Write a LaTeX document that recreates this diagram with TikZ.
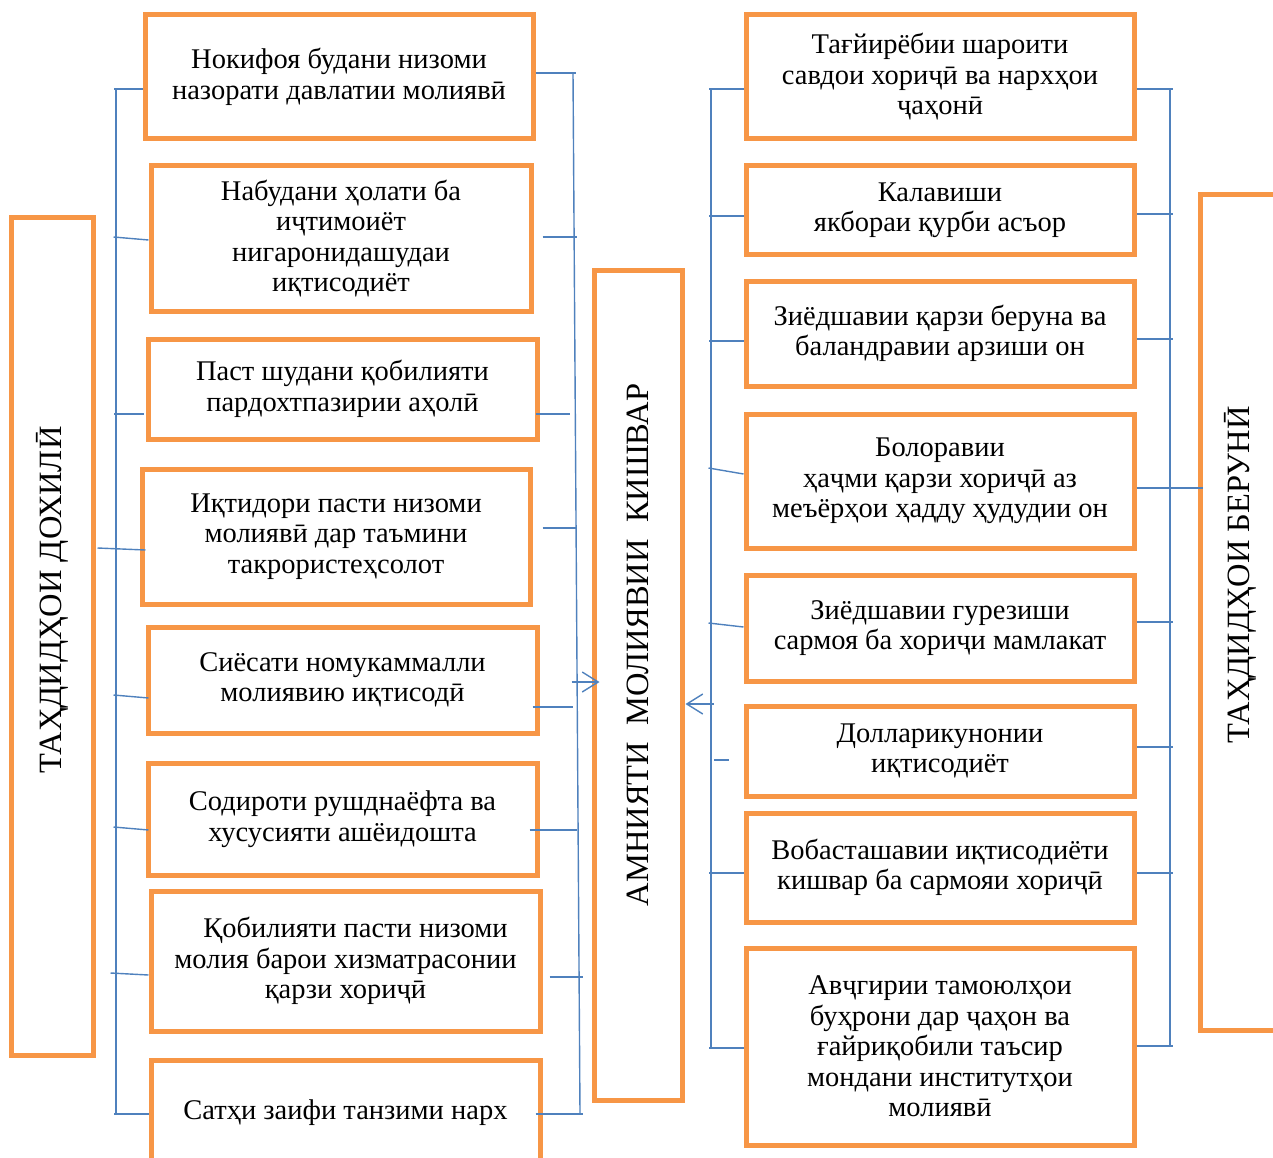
\documentclass[tikz,border=0pt]{standalone}
\usepackage{fontspec}
\setmainfont{Liberation Serif}
\usepackage{xcolor}
\usepackage{tikz}
\usetikzlibrary{arrows.meta}
\definecolor{boxorange}{HTML}{F79646}
\definecolor{linkblue}{HTML}{4F81BD}

\begin{document}
\begin{tikzpicture}[x=1pt,y=-1pt,
  box/.style={draw=boxorange,line width=5pt,align=center,inner sep=0pt,font=\fontsize{28.5}{30.5}\selectfont},
  lbl/.style={rotate=90,font=\fontsize{32.5}{34}\selectfont},
  link/.style={draw=linkblue,line width=1.4pt},
  flow/.style={link,-{Straight Barb[length=16pt,width=20pt]}}]
\useasboundingbox (0,0) rectangle (1273,1158);
\clip (0,0) rectangle (1273,1158);

% big boxes
\node[box,minimum width=82pt,minimum height=837pt](inner)at(52,636.5){};
\node[lbl](innerlbl)at(52,600){ТАҲДИДҲОИ ДОХИЛӢ};
\node[box,minimum width=88pt,minimum height=830pt](mid)at(638,685){};
\node[lbl](midlbl)at(638,645){АМНИЯТИ\ \ МОЛИЯВИИ\ \ КИШВАР};
\node[box,minimum width=90pt,minimum height=835pt](outer)at(1245,612.5){};
\node[lbl](outerlbl)at(1240,575){ТАҲДИДҲОИ БЕРУНӢ};

% left column
\node[box,minimum width=388pt,minimum height=124pt](l1)at(339,77){Нокифоя будани низоми\\назорати давлатии молиявӣ};
\node[box,minimum width=380pt,minimum height=145pt](l2)at(341,238.5){Набудани ҳолати ба\\иҷтимоиёт\\нигаронидашудаи\\иқтисодиёт};
\node[box,minimum width=389pt,minimum height=100pt](l3)at(342.5,389){Паст шудани қобилияти\\пардохтпазирии аҳолӣ};
\node[box,minimum width=388pt,minimum height=135pt](l4)at(336,536.5){Иқтидори пасти низоми\\молиявӣ дар таъмини\\такрористеҳсолот};
\node[box,minimum width=389pt,minimum height=106pt](l5)at(342.5,680){Сиёсати номукаммалли\\молиявию иқтисодӣ};
\node[box,minimum width=389pt,minimum height=112pt](l6)at(342.5,819){Содироти рушднаёфта ва\\хусусияти ашёидошта};
\node[box,minimum width=389pt,minimum height=140pt](l7)at(345.5,961){\hspace*{20pt}Қобилияти пасти низоми\\молия барои хизматрасонии\\қарзи хориҷӣ};
\node[box,minimum width=389pt,minimum height=105pt](l8)at(345.5,1112.5){Сатҳи заифи танзими нарх};

% right column
\node[box,minimum width=388pt,minimum height=124pt](r1)at(940,77){Тағйирёбии шароити\\савдои хориҷӣ ва нархҳои\\ҷаҳонӣ};
\node[box,minimum width=388pt,minimum height=88pt](r2)at(940,210){Калавиши\\якбораи қурби асъор};
\node[box,minimum width=388pt,minimum height=105pt](r3)at(940,333.5){Зиёдшавии қарзи беруна ва\\баландравии арзиши он};
\node[box,minimum width=388pt,minimum height=134pt](r4)at(940,481){Болоравии\\ҳаҷми қарзи хориҷӣ аз\\меъёрҳои ҳадду ҳудудии он};
\node[box,minimum width=388pt,minimum height=106pt](r5)at(940,628){Зиёдшавии гурезиши\\сармоя ба хориҷи мамлакат};
\node[box,minimum width=388pt,minimum height=90pt](r6)at(940,751){Долларикунонии\\иқтисодиёт};
\node[box,minimum width=388pt,minimum height=109pt](r7)at(940,867.5){Вобасташавии иқтисодиёти\\кишвар ба сармояи хориҷӣ};
\node[box,minimum width=388pt,minimum height=197pt](r8)at(940,1046.5){Авҷгирии тамоюлҳои\\буҳрони дар ҷаҳон ва\\ғайриқобили таъсир\\мондани институтҳои\\молиявӣ};

% buses
\coordinate(lla)at(116,89);\coordinate(llb)at(116,1114);
\coordinate(lra)at(573,73);\coordinate(lrb)at(580,1114);
\coordinate(rla)at(711,89);\coordinate(rlb)at(711,1048);
\coordinate(rra)at(1170,89);\coordinate(rrb)at(1170,1047);
\draw[link](lla)--(llb);
\draw[link](lra)--(lrb);
\draw[link](rla)--(rlb);
\draw[link](rra)--(rrb);

% ticks, left column
\draw[link]([yshift=-12pt]l1.west)--++(-29,0);
\draw[link]([yshift=-1.5pt]l2.west)--++(-35,-3);
\draw[link]([xshift=-2pt,yshift=-25pt]l3.west)--++(-30,0);
\draw[link]([xshift=6pt,yshift=-13.5pt]l4.west)--++(-48,-2);
\draw[link]([xshift=3pt,yshift=-18pt]l5.west)--++(-35,-3);
\draw[link]([xshift=3pt,yshift=-11pt]l6.west)--++(-35,-3);
\draw[link]([yshift=-14pt]l7.west)--++(-38,-2);
\draw[link]([yshift=-1.5pt]l8.west)--++(-35,0);
\draw[link]([yshift=4pt]l1.east)--++(40,0);
\draw[link]([xshift=9pt,yshift=1.5pt]l2.east)--++(34,0);
\draw[link]([xshift=-4pt,yshift=-25pt]l3.east)--++(34,0);
\draw[link]([xshift=10pt,yshift=8.5pt]l4.east)--++(34,0);
\draw[link]([xshift=-7pt,yshift=-27pt]l5.east)--++(40,0);
\draw[link]([xshift=-10pt,yshift=-11pt]l6.east)--++(47,0);
\draw[link]([xshift=7pt,yshift=-16pt]l7.east)--++(33,0);
\draw[link]([xshift=-7pt,yshift=-1.5pt]l8.east)--++(47,0);

% ticks, right column
\draw[link]([yshift=-12pt]r1.west)--++(-35,0);
\draw[link]([yshift=-6pt]r2.west)--++(-35,0);
\draw[link]([yshift=-7.5pt]r3.west)--++(-35,0);
\draw[link]([yshift=7pt]r4.west)--++(-35,-6);
\draw[link]([yshift=1pt]r5.west)--++(-35,-4);
\draw[link]([xshift=-15pt,yshift=-9pt]r6.west)--++(-15,0);
\draw[link]([yshift=-5.5pt]r7.west)--++(-35,0);
\draw[link]([yshift=-1.5pt]r8.west)--++(-35,0);
\draw[link]([yshift=-12pt]r1.east)--++(36,0);
\draw[link]([yshift=-4pt]r2.east)--++(36,0);
\draw[link]([yshift=-5.5pt]r3.east)--++(36,0);
\draw[link]([yshift=-7pt]r4.east)--++(66,0);
\draw[link]([yshift=6pt]r5.east)--++(36,0);
\draw[link]([yshift=4pt]r6.east)--++(36,0);
\draw[link]([yshift=-5.5pt]r7.east)--++(36,0);
\draw[link]([yshift=0.5pt]r8.east)--++(36,0);

% arrows into the centre
\draw[flow]([xshift=-20pt,yshift=3pt]mid.west)--([xshift=8pt,yshift=3pt]mid.west);
\draw[flow]([xshift=29pt,yshift=-19pt]mid.east)--([xshift=1pt,yshift=-19pt]mid.east);
\end{tikzpicture}
\end{document}
